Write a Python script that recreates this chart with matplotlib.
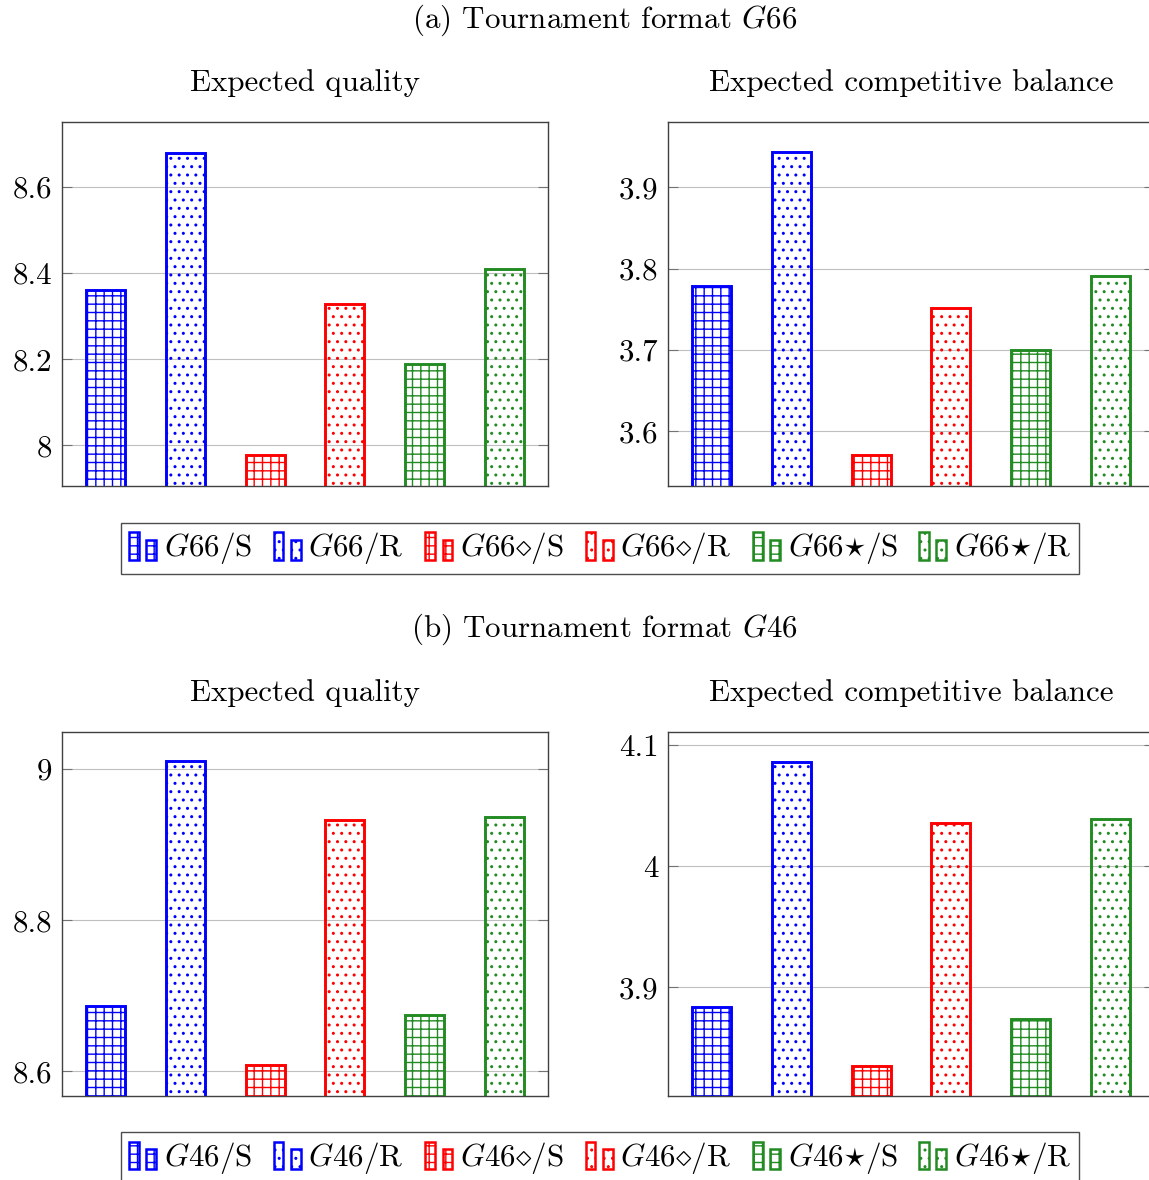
import matplotlib
matplotlib.use("Agg")
import matplotlib.pyplot as plt
from matplotlib.patches import Rectangle
from matplotlib.legend_handler import HandlerBase

plt.rcParams['font.family'] = 'cmr10'
plt.rcParams['mathtext.fontset'] = 'cm'
plt.rcParams['axes.formatter.use_mathtext'] = True
plt.rcParams['hatch.linewidth'] = 1.0

# values
g66_quality = [8.360, 8.680, 7.976, 8.329, 8.188, 8.409]
g66_balance = [3.778, 3.943, 3.571, 3.751, 3.700, 3.791]
g46_quality = [8.686, 9.010, 8.608, 8.932, 8.674, 8.937]
g46_balance = [3.884, 4.086, 3.835, 4.036, 3.874, 4.039]

g66_labels = [r'$G66$/S', r'$G66$/R', r'$G66{\diamond}$/S', r'$G66{\diamond}$/R',
              r'$G66{\star}$/S', r'$G66{\star}$/R']
g46_labels = [r'$G46$/S', r'$G46$/R', r'$G46{\diamond}$/S', r'$G46{\diamond}$/R',
              r'$G46{\star}$/S', r'$G46{\star}$/R']

colors = ['blue', 'blue', 'red', 'red', '#228b22', '#228b22']
hatches = ['++', '..', '++', '..', '++', '..']

FS = 22.3
W, H = 1149, 1180


class TwoBars(HandlerBase):
    # pgfplots style ybar legend image: a tall bar and a shorter one
    def create_artists(self, legend, orig, xd, yd, width, height, fontsize, trans):
        ec = orig.get_edgecolor()
        h = orig.get_hatch()
        bw = 0.36 * width
        r1 = Rectangle((-xd, -yd), bw, height, fc='none', ec=ec, hatch=h, lw=1.8, transform=trans)
        r2 = Rectangle((-xd + width - bw, -yd), bw, 0.72 * height, fc='none', ec=ec, hatch=h,
                       lw=1.8, transform=trans)
        return [r1, r2]


def draw_panel(ax, values, ylim, ticks, title):
    x = list(range(len(values)))
    for i in x:
        ax.bar(i, values[i], width=0.49, facecolor='none', edgecolor=colors[i],
               hatch=hatches[i], linewidth=2.1, zorder=2)
    ax.set_xlim(-0.55, 5.55)
    ax.set_ylim(*ylim)
    ax.set_yticks(ticks, labels=['%g' % t for t in ticks])
    ax.tick_params(axis='x', bottom=False, labelbottom=False)
    ax.tick_params(axis='y', direction='in', length=7, width=0.8, color='0.45',
                   left=True, right=True, labelsize=FS, pad=7)
    ax.yaxis.grid(True, color='0.75', linewidth=0.8)
    ax.set_axisbelow(True)
    for s in ax.spines.values():
        s.set_color('0.25')
        s.set_linewidth(1.0)
    ax.set_title(title, fontsize=FS, pad=22)


def add_legend(fig, labels, yc):
    handles = [Rectangle((0, 0), 1, 1, fc='none', ec=colors[i], hatch=hatches[i])
               for i in range(6)]
    leg = fig.legend(handles, labels, loc='center', bbox_to_anchor=(600 / W, yc),
                     ncol=6, fontsize=FS, frameon=True, fancybox=False,
                     edgecolor='0.3', framealpha=1, handlelength=0.87,
                     handleheight=1.0, handletextpad=0.25, columnspacing=0.7,
                     borderpad=0.25, borderaxespad=0,
                     handler_map={Rectangle: TwoBars()})
    leg.get_frame().set_linewidth(1.0)


fig = plt.figure(figsize=(W / 100, H / 100), dpi=100)

ax_w = 486 / W
ax_h = 364 / H
lx = 62 / W
rx = 668 / W
top_b = 1 - 486 / H
bot_b = 1 - 1096 / H

ax1 = fig.add_axes([lx, top_b, ax_w, ax_h])
ax2 = fig.add_axes([rx, top_b, ax_w, ax_h])
ax3 = fig.add_axes([lx, bot_b, ax_w, ax_h])
ax4 = fig.add_axes([rx, bot_b, ax_w, ax_h])

draw_panel(ax1, g66_quality, (7.905, 8.751), [8, 8.2, 8.4, 8.6], 'Expected quality')
draw_panel(ax2, g66_balance, (3.533, 3.980), [3.6, 3.7, 3.8, 3.9], 'Expected competitive balance')
draw_panel(ax3, g46_quality, (8.567, 9.049), [8.6, 8.8, 9], 'Expected quality')
draw_panel(ax4, g46_balance, (3.810, 4.111), [3.9, 4, 4.1], 'Expected competitive balance')

fig.text(605 / W, 1 - 28 / H, r'(a) Tournament format $G66$', fontsize=FS,
         ha='center', va='baseline')
fig.text(605 / W, 1 - 637 / H, r'(b) Tournament format $G46$', fontsize=FS,
         ha='center', va='baseline')

add_legend(fig, g66_labels, 1 - 548.5 / H)
add_legend(fig, g46_labels, 1 - 1158 / H)

fig.savefig('out.png', dpi=100)
